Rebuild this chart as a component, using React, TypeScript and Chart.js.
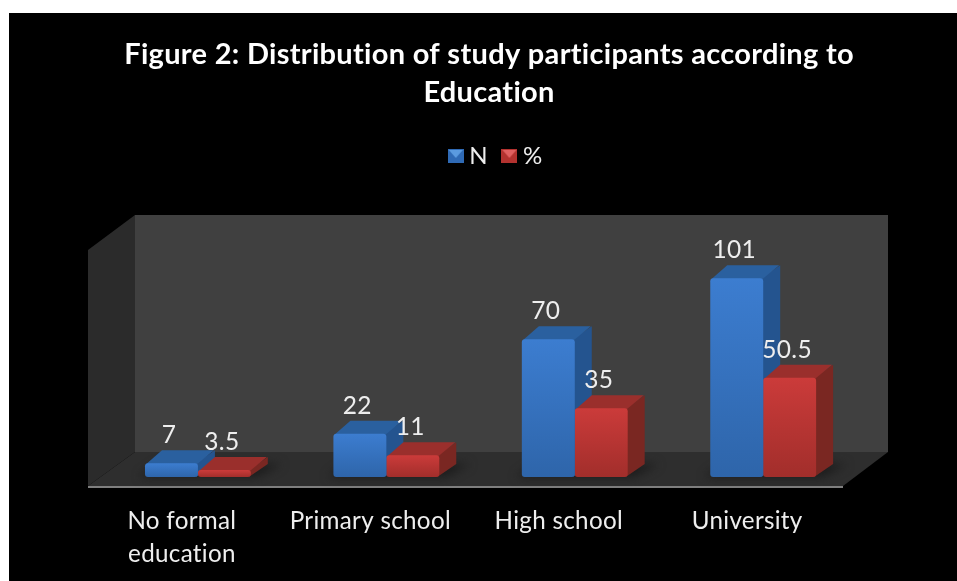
import React, { useEffect, useRef } from "react";
import { Chart, registerables } from "chart.js";

Chart.register(...registerables);

const titleLines = ["Figure 2: Distribution of study participants according to", "Education"];
const categories = [["No formal", "education"], "Primary school", "High school", "University"];
const seriesNames = ["N", "%"];
const nValues = [7, 22, 70, 101];
const percentValues = [3.5, 11, 35, 50.5];

const FONT = "Lato, 'Open Sans', sans-serif";
const TEXT = "#eeeeee";
const DEPTH_X = 17;
const DEPTH_Y = -13;

const palette = [
  { top: "#3c7dd0", bottom: "#2e65aa", side: "#24548f", cap: "#2a609f", mark: "#2f6ab5", markHi: "#5b9be0" },
  { top: "#cb3b3a", bottom: "#a22e2b", side: "#7a2722", cap: "#9a2f2c", mark: "#b3322f", markHi: "#e06060" },
];

function legendSwatch(c: (typeof palette)[number]) {
  const el = document.createElement("canvas");
  el.width = 16;
  el.height = 14;
  const g = el.getContext("2d")!;
  g.fillStyle = c.mark;
  g.fillRect(0, 0, 16, 14);
  g.fillStyle = c.markHi;
  g.beginPath();
  g.moveTo(1, 1);
  g.lineTo(15, 1);
  g.lineTo(8, 9);
  g.closePath();
  g.fill();
  return el;
}

function frontFill(c: (typeof palette)[number]) {
  return (ctx: any) => {
    const { chart } = ctx;
    if (!chart.chartArea || ctx.raw === undefined) return c.top;
    const y = chart.scales.y;
    const g = chart.ctx.createLinearGradient(0, y.getPixelForValue(ctx.raw), 0, y.getPixelForValue(0));
    g.addColorStop(0, c.top);
    g.addColorStop(1, c.bottom);
    return g;
  };
}

function poly(ctx: CanvasRenderingContext2D, pts: number[][], fill: string) {
  ctx.beginPath();
  pts.forEach(([x, y], i) => (i ? ctx.lineTo(x, y) : ctx.moveTo(x, y)));
  ctx.closePath();
  ctx.fillStyle = fill;
  ctx.fill();
}

// Room behind the bars: back wall, side wall, floor and the front axis rule.
const roomPlugin = {
  id: "room",
  beforeDraw(chart: any) {
    // A small tracking value spreads the text and keeps "ti" as two separate letters.
    chart.ctx.letterSpacing = "0.3px";
  },
  beforeDatasetsDraw(chart: any) {
    const { ctx, chartArea: a } = chart;
    const wl = a.left + 31.3, wr = a.right + 30.6, wb = a.bottom - 25, wt = a.bottom - 262;
    const fl = a.left - 15.7, fr = a.right - 14.4, fb = a.bottom + 9, st = a.bottom - 227;
    ctx.save();
    poly(ctx, [[wl, wt], [wr, wt], [wr, wb], [wl, wb]], "#404040");
    poly(ctx, [[fl, st], [wl, wt], [wl, wb], [fl, fb]], "#2b2b2b");
    poly(ctx, [[fl, fb], [wl, wb], [wr, wb], [fr, fb]], "#2e2e2e");
    ctx.fillStyle = "#7f7f7f";
    ctx.fillRect(fl, fb, fr - fl, 2);

    // Soft contact shadow on the floor under each pair of bars.
    const blue = chart.getDatasetMeta(0).data;
    const red = chart.getDatasetMeta(1).data;
    ctx.filter = "blur(5px)";
    blue.forEach((b: any, i: number) => {
      const left = b.x - b.width / 2;
      const right = red[i].x + red[i].width / 2;
      poly(ctx, [[left - 6, b.base], [left + 12, b.base + DEPTH_Y], [right + DEPTH_X + 14, b.base + DEPTH_Y], [right + 6, b.base]], "#1c1c1c");
    });
    ctx.filter = "none";

    // Depth faces go down first; the chart's own bars then paint the fronts over them.
    [0, 1].forEach((ds) => {
      const c = palette[ds];
      chart.getDatasetMeta(ds).data.forEach((b: any) => {
        const l = b.x - b.width / 2, r = b.x + b.width / 2;
        poly(ctx, [[r - 2, b.y], [r + DEPTH_X, b.y + DEPTH_Y], [r + DEPTH_X, b.base + DEPTH_Y], [r - 2, b.base]], c.side);
        poly(ctx, [[l + 1, b.y + 1], [l + DEPTH_X, b.y + DEPTH_Y], [r + DEPTH_X - 1, b.y + DEPTH_Y], [r - 1, b.y + 1]], c.cap);
      });
    });
    ctx.restore();
  },
  afterLayout(chart: any) {
    // The heading and key sit centred on the page rather than on the plot.
    chart.titleBlock.left += 8.5;
    chart.titleBlock.right += 8.5;
    chart.legend.left += 17.5;
    chart.legend.right += 17.5;
  },
};

// Value captions above each bar.
const valueLabelPlugin = {
  id: "valueLabels",
  afterDatasetsDraw(chart: any) {
    const { ctx } = chart;
    ctx.save();
    ctx.font = `24.5px ${FONT}`;
    ctx.fillStyle = TEXT;
    ctx.textAlign = "center";
    ctx.textBaseline = "middle";
    chart.data.datasets.forEach((set: any, ds: number) => {
      chart.getDatasetMeta(ds).data.forEach((b: any, i: number) => {
        ctx.fillText(String(set.data[i]), b.x - 2.5, b.y - 28);
      });
    });
    ctx.restore();
  },
};

export default function App() {
  const ref = useRef<HTMLCanvasElement>(null);
  useEffect(() => {
    const swatches = palette.map(legendSwatch);
    const chart = new Chart(ref.current!, {
      type: "bar",
      data: {
        labels: categories as any,
        datasets: [
          { label: seriesNames[0], data: nValues, backgroundColor: frontFill(palette[0]) as any, borderRadius: 3, borderSkipped: false },
          { label: seriesNames[1], data: percentValues, backgroundColor: frontFill(palette[1]) as any, borderRadius: 3, borderSkipped: false },
        ],
      },
      options: {
        responsive: false,
        animation: false,
        events: [],
        layout: { padding: { left: 94.7, right: 99.6, top: 0, bottom: 0 } },
        datasets: { bar: { categoryPercentage: 0.5618, barPercentage: 1 } },
        plugins: {
          title: {
            display: true,
            text: titleLines,
            color: "#ffffff",
            font: { family: FONT, size: 29, weight: "bold", lineHeight: 38 / 29 },
            padding: { top: 23, bottom: 12 },
          },
          legend: {
            position: "top",
            labels: {
              color: TEXT,
              font: { family: FONT, size: 24 },
              padding: 20,
              usePointStyle: true,
              pointStyleWidth: 3,
              generateLabels: (c: any) =>
                c.data.datasets.map((d: any, i: number) => ({
                  text: d.label,
                  fontColor: TEXT,
                  pointStyle: swatches[i],
                  datasetIndex: i,
                  lineWidth: 0,
                })),
            },
          },
          tooltip: { enabled: false },
        },
        scales: {
          x: {
            grid: { display: false },
            border: { display: false },
            afterFit: (s: any) => {
              s.height = 104;
            },
            ticks: {
              color: TEXT,
              font: { family: FONT, size: 24.2, lineHeight: 33 / 24.2 },
              padding: 19.5,
              labelOffset: -16,
              maxRotation: 0,
              autoSkip: false,
            },
          },
          y: { display: false, min: 0, max: 152 },
        },
      },
      plugins: [roomPlugin, valueLabelPlugin],
    } as any);
    return () => chart.destroy();
  }, []);
  return (
    <div style={{ position: "fixed", left: 9, top: 13, width: 948, height: 568, background: "#000000", overflow: "hidden" }}>
      <canvas ref={ref} width={948} height={568} style={{ display: "block" }} />
    </div>
  );
}
